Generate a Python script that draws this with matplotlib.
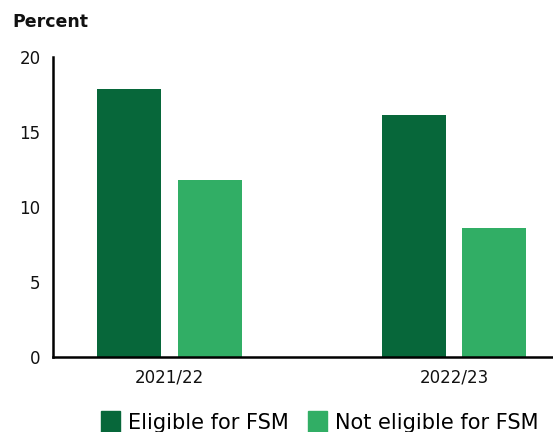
import matplotlib.pyplot as plt
from matplotlib.patches import Patch
import numpy as np

years = ['2021/22', '2022/23']
eligible = [17.9, 16.1]
not_eligible = [11.8, 8.6]
series_names = ['Eligible for FSM', 'Not eligible for FSM']
colors = ['#07673A', '#31AE65']

plt.rcParams['font.family'] = ['DejaVu Sans']

fig = plt.figure(figsize=(5.53, 4.32), dpi=100)
ax = fig.add_axes([53 / 553, 1 - 357 / 432, 500 / 553, 300 / 432])

x = np.arange(len(years))
width = 0.225
offset = 0.142
ax.bar(x - offset, eligible, width, color=colors[0])
ax.bar(x + offset, not_eligible, width, color=colors[1])

ax.set_xlim(-0.41, 1.348)
ax.set_ylim(0, 20)
ax.set_yticks([0, 5, 10, 15, 20])
ax.set_xticks(x)
ax.set_xticklabels(years)
ax.tick_params(axis='both', length=0, labelsize=12, colors='#111111')
ax.tick_params(axis='y', pad=9)
ax.tick_params(axis='x', pad=8)

for side in ['top', 'right']:
    ax.spines[side].set_visible(False)
ax.spines['left'].set_linewidth(1.8)
ax.spines['bottom'].set_linewidth(1.8)

fig.text(12 / 553, 1 - 22 / 432, 'Percent', fontsize=12.5, fontweight='bold',
         va='center', ha='left', color='#111111')

handles = [Patch(color=c, label=n) for c, n in zip(colors, series_names)]
fig.legend(handles=handles, loc='center', bbox_to_anchor=(320 / 553, 1 - 422 / 432),
           ncol=2, frameon=False, fontsize=15, handlelength=0.9, handleheight=1.25,
           handletextpad=0.4, columnspacing=0.9)

plt.savefig('out.png', dpi=100)
plt.close()
